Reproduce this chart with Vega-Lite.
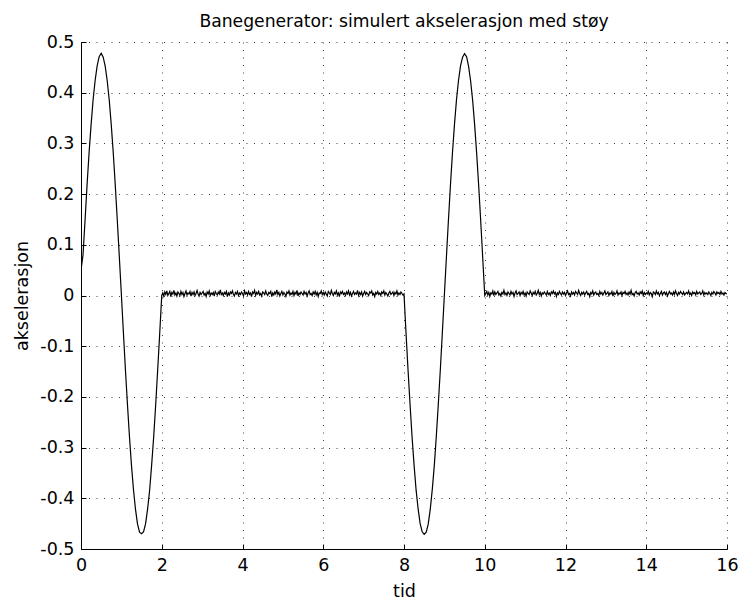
{
  "$schema": "https://vega.github.io/schema/vega-lite/v6.json",
  "autosize": {"type": "none"},
  "padding": {"left": 81, "top": 42, "right": 12, "bottom": 52},
  "width": 646,
  "height": 507,
  "background": "white",
  "config": {
    "view": {"stroke": null},
    "font": "DejaVu Sans",
    "axis": {
      "domainColor": "#000",
      "domainWidth": 1,
      "tickColor": "#000",
      "tickSize": -5,
      "labelColor": "#000",
      "labelFont": "DejaVu Sans",
      "labelFontSize": 17.5,
      "titleFont": "DejaVu Sans",
      "titleFontSize": 17.5,
      "titleFontWeight": "normal",
      "titleColor": "#000",
      "grid": true,
      "gridColor": "#000",
      "gridOpacity": 0.75,
      "gridDash": [1, 6.5],
      "gridWidth": 1
    }
  },
  "title": {
    "text": "Banegenerator: simulert akselerasjon med støy",
    "font": "DejaVu Sans",
    "fontSize": 17.2,
    "fontWeight": "normal",
    "color": "#000",
    "anchor": "middle",
    "baseline": "alphabetic",
    "offset": -11
  },
  "data": {
    "values": [
      {"t": 0.00, "a": 0.050}, {"t": 0.05, "a": 0.080}, {"t": 0.10, "a": 0.148}, {"t": 0.15, "a": 0.218},
      {"t": 0.20, "a": 0.281}, {"t": 0.25, "a": 0.337}, {"t": 0.30, "a": 0.386}, {"t": 0.35, "a": 0.424},
      {"t": 0.40, "a": 0.453}, {"t": 0.45, "a": 0.471}, {"t": 0.50, "a": 0.478}, {"t": 0.55, "a": 0.470},
      {"t": 0.60, "a": 0.452}, {"t": 0.65, "a": 0.423}, {"t": 0.70, "a": 0.385}, {"t": 0.75, "a": 0.336},
      {"t": 0.80, "a": 0.280}, {"t": 0.85, "a": 0.216}, {"t": 0.90, "a": 0.147}, {"t": 0.95, "a": 0.075},
      {"t": 1.00, "a": 0.002}, {"t": 1.05, "a": -0.073}, {"t": 1.10, "a": -0.146}, {"t": 1.15, "a": -0.214},
      {"t": 1.20, "a": -0.278}, {"t": 1.25, "a": -0.335}, {"t": 1.30, "a": -0.383}, {"t": 1.35, "a": -0.422},
      {"t": 1.40, "a": -0.451}, {"t": 1.45, "a": -0.467}, {"t": 1.50, "a": -0.470}, {"t": 1.55, "a": -0.466},
      {"t": 1.60, "a": -0.450}, {"t": 1.65, "a": -0.421}, {"t": 1.70, "a": -0.384}, {"t": 1.75, "a": -0.334},
      {"t": 1.80, "a": -0.279}, {"t": 1.85, "a": -0.215}, {"t": 1.90, "a": -0.146}, {"t": 1.95, "a": -0.074},
      {"t": 2.00, "a": 0.000},

      {"t": 2.025, "a": 0.005}, {"t": 2.05, "a": -0.001}, {"t": 2.075, "a": 0.007}, {"t": 2.1, "a": 0.002}, {"t": 2.125, "a": 0.009},
      {"t": 2.15, "a": 0.000}, {"t": 2.175, "a": 0.004}, {"t": 2.2, "a": 0.008}, {"t": 2.225, "a": -0.002}, {"t": 2.25, "a": 0.006},
      {"t": 2.275, "a": 0.003}, {"t": 2.3, "a": 0.010}, {"t": 2.325, "a": 0.001}, {"t": 2.35, "a": 0.005}, {"t": 2.375, "a": -0.001},
      {"t": 2.4, "a": 0.007}, {"t": 2.425, "a": 0.004}, {"t": 2.45, "a": 0.000}, {"t": 2.475, "a": 0.008}, {"t": 2.5, "a": 0.002},
      {"t": 2.525, "a": 0.006}, {"t": 2.55, "a": -0.002}, {"t": 2.575, "a": 0.004}, {"t": 2.6, "a": 0.009}, {"t": 2.625, "a": 0.001},
      {"t": 2.65, "a": 0.005}, {"t": 2.675, "a": 0.003}, {"t": 2.7, "a": 0.008}, {"t": 2.725, "a": -0.001}, {"t": 2.75, "a": 0.006},
      {"t": 2.775, "a": 0.002}, {"t": 2.8, "a": 0.007}, {"t": 2.825, "a": 0.000}, {"t": 2.85, "a": 0.004}, {"t": 2.875, "a": 0.010},
      {"t": 2.9, "a": 0.003}, {"t": 2.925, "a": -0.001}, {"t": 2.95, "a": 0.006}, {"t": 2.975, "a": 0.002}, {"t": 3.0, "a": 0.005},
      {"t": 3.025, "a": 0.008}, {"t": 3.05, "a": 0.001}, {"t": 3.075, "a": 0.004}, {"t": 3.1, "a": -0.002}, {"t": 3.125, "a": 0.007},
      {"t": 3.15, "a": 0.003}, {"t": 3.175, "a": 0.009}, {"t": 3.2, "a": 0.000}, {"t": 3.225, "a": 0.005}, {"t": 3.25, "a": 0.002},
      {"t": 3.275, "a": 0.006}, {"t": 3.3, "a": -0.001}, {"t": 3.325, "a": 0.008}, {"t": 3.35, "a": 0.004}, {"t": 3.375, "a": 0.001},
      {"t": 3.4, "a": 0.007}, {"t": 3.425, "a": 0.003}, {"t": 3.45, "a": 0.011}, {"t": 3.475, "a": 0.002}, {"t": 3.5, "a": 0.005},
      {"t": 3.525, "a": 0.000}, {"t": 3.55, "a": 0.006}, {"t": 3.575, "a": 0.003}, {"t": 3.6, "a": 0.008}, {"t": 3.625, "a": -0.002},
      {"t": 3.65, "a": 0.005}, {"t": 3.675, "a": 0.001}, {"t": 3.7, "a": 0.007}, {"t": 3.725, "a": 0.004}, {"t": 3.75, "a": 0.009},
      {"t": 3.775, "a": 0.002}, {"t": 3.8, "a": -0.001}, {"t": 3.825, "a": 0.006}, {"t": 3.85, "a": 0.003}, {"t": 3.875, "a": 0.008},
      {"t": 3.9, "a": 0.000}, {"t": 3.925, "a": 0.005}, {"t": 3.95, "a": 0.002}, {"t": 3.975, "a": 0.007}, {"t": 4.0, "a": 0.004},
      {"t": 4.025, "a": -0.001}, {"t": 4.05, "a": 0.009}, {"t": 4.075, "a": 0.003}, {"t": 4.1, "a": 0.006}, {"t": 4.125, "a": 0.001},
      {"t": 4.15, "a": 0.008}, {"t": 4.175, "a": 0.002}, {"t": 4.2, "a": 0.005}, {"t": 4.225, "a": -0.002}, {"t": 4.25, "a": 0.007},
      {"t": 4.275, "a": 0.004}, {"t": 4.3, "a": 0.010}, {"t": 4.325, "a": 0.000}, {"t": 4.35, "a": 0.006}, {"t": 4.375, "a": 0.003},
      {"t": 4.4, "a": 0.008}, {"t": 4.425, "a": 0.001}, {"t": 4.45, "a": 0.004}, {"t": 4.475, "a": -0.001}, {"t": 4.5, "a": 0.007},
      {"t": 4.525, "a": 0.005}, {"t": 4.55, "a": 0.002}, {"t": 4.575, "a": 0.009}, {"t": 4.6, "a": 0.003}, {"t": 4.625, "a": 0.000},
      {"t": 4.65, "a": 0.006}, {"t": 4.675, "a": 0.004}, {"t": 4.7, "a": 0.008}, {"t": 4.725, "a": -0.002}, {"t": 4.75, "a": 0.005},
      {"t": 4.775, "a": 0.001}, {"t": 4.8, "a": 0.007}, {"t": 4.825, "a": 0.003}, {"t": 4.85, "a": 0.011}, {"t": 4.875, "a": 0.002},
      {"t": 4.9, "a": 0.006}, {"t": 4.925, "a": -0.001}, {"t": 4.95, "a": 0.004}, {"t": 4.975, "a": 0.008}, {"t": 5.0, "a": 0.001},
      {"t": 5.025, "a": 0.006}, {"t": 5.05, "a": 0.003}, {"t": 5.075, "a": -0.002}, {"t": 5.1, "a": 0.007}, {"t": 5.125, "a": 0.004},
      {"t": 5.15, "a": 0.009}, {"t": 5.175, "a": 0.001}, {"t": 5.2, "a": 0.005}, {"t": 5.225, "a": 0.002}, {"t": 5.25, "a": 0.008},
      {"t": 5.275, "a": 0.000}, {"t": 5.3, "a": 0.006}, {"t": 5.325, "a": 0.003}, {"t": 5.35, "a": 0.010}, {"t": 5.375, "a": -0.001},
      {"t": 5.4, "a": 0.005}, {"t": 5.425, "a": 0.002}, {"t": 5.45, "a": 0.007}, {"t": 5.475, "a": 0.004}, {"t": 5.5, "a": 0.001},
      {"t": 5.525, "a": 0.008}, {"t": 5.55, "a": 0.003}, {"t": 5.575, "a": 0.006}, {"t": 5.6, "a": -0.001}, {"t": 5.625, "a": 0.005},
      {"t": 5.65, "a": 0.009}, {"t": 5.675, "a": 0.002}, {"t": 5.7, "a": 0.004}, {"t": 5.725, "a": 0.000}, {"t": 5.75, "a": 0.007},
      {"t": 5.775, "a": 0.003}, {"t": 5.8, "a": 0.008}, {"t": 5.825, "a": 0.001}, {"t": 5.85, "a": 0.006}, {"t": 5.875, "a": -0.002},
      {"t": 5.9, "a": 0.005}, {"t": 5.925, "a": 0.004}, {"t": 5.95, "a": 0.009}, {"t": 5.975, "a": 0.002}, {"t": 6.0, "a": 0.006},
      {"t": 6.025, "a": 0.001}, {"t": 6.05, "a": 0.007}, {"t": 6.075, "a": 0.003}, {"t": 6.1, "a": -0.001}, {"t": 6.125, "a": 0.008},
      {"t": 6.15, "a": 0.005}, {"t": 6.175, "a": 0.002}, {"t": 6.2, "a": 0.010}, {"t": 6.225, "a": 0.004}, {"t": 6.25, "a": 0.000},
      {"t": 6.275, "a": 0.006}, {"t": 6.3, "a": 0.003}, {"t": 6.325, "a": 0.009}, {"t": 6.35, "a": 0.001}, {"t": 6.375, "a": 0.005},
      {"t": 6.4, "a": -0.002}, {"t": 6.425, "a": 0.007}, {"t": 6.45, "a": 0.004}, {"t": 6.475, "a": 0.008}, {"t": 6.5, "a": 0.002},
      {"t": 6.525, "a": 0.005}, {"t": 6.55, "a": 0.000}, {"t": 6.575, "a": 0.007}, {"t": 6.6, "a": 0.003}, {"t": 6.625, "a": 0.009},
      {"t": 6.65, "a": 0.001}, {"t": 6.675, "a": 0.006}, {"t": 6.7, "a": -0.001}, {"t": 6.725, "a": 0.004}, {"t": 6.75, "a": 0.008},
      {"t": 6.775, "a": 0.002}, {"t": 6.8, "a": 0.005}, {"t": 6.825, "a": 0.003}, {"t": 6.85, "a": 0.010}, {"t": 6.875, "a": 0.000},
      {"t": 6.9, "a": 0.006}, {"t": 6.925, "a": 0.002}, {"t": 6.95, "a": 0.007}, {"t": 6.975, "a": -0.001}, {"t": 7.0, "a": 0.004},
      {"t": 7.025, "a": 0.008}, {"t": 7.05, "a": 0.002}, {"t": 7.075, "a": 0.006}, {"t": 7.1, "a": 0.003}, {"t": 7.125, "a": 0.000},
      {"t": 7.15, "a": 0.007}, {"t": 7.175, "a": 0.005}, {"t": 7.2, "a": 0.009}, {"t": 7.225, "a": 0.001}, {"t": 7.25, "a": 0.004},
      {"t": 7.275, "a": -0.002}, {"t": 7.3, "a": 0.006}, {"t": 7.325, "a": 0.003}, {"t": 7.35, "a": 0.008}, {"t": 7.375, "a": 0.002},
      {"t": 7.4, "a": 0.005}, {"t": 7.425, "a": 0.000}, {"t": 7.45, "a": 0.007}, {"t": 7.475, "a": 0.004}, {"t": 7.5, "a": 0.009},
      {"t": 7.525, "a": 0.001}, {"t": 7.55, "a": 0.006}, {"t": 7.575, "a": 0.003}, {"t": 7.6, "a": -0.001}, {"t": 7.625, "a": 0.005},
      {"t": 7.65, "a": 0.008}, {"t": 7.675, "a": 0.002}, {"t": 7.7, "a": 0.004}, {"t": 7.725, "a": 0.007}, {"t": 7.75, "a": 0.000},
      {"t": 7.775, "a": 0.006}, {"t": 7.8, "a": 0.003}, {"t": 7.825, "a": 0.009}, {"t": 7.85, "a": 0.001}, {"t": 7.875, "a": 0.005},
      {"t": 7.9, "a": 0.002}, {"t": 7.925, "a": 0.007}, {"t": 7.95, "a": 0.004}, {"t": 7.975, "a": 0.001}, {"t": 8.0, "a": 0.003},

      {"t": 8.05, "a": -0.074}, {"t": 8.10, "a": -0.147}, {"t": 8.15, "a": -0.215}, {"t": 8.20, "a": -0.279}, {"t": 8.25, "a": -0.335},
      {"t": 8.30, "a": -0.384}, {"t": 8.35, "a": -0.421}, {"t": 8.40, "a": -0.450}, {"t": 8.45, "a": -0.466}, {"t": 8.50, "a": -0.471},
      {"t": 8.55, "a": -0.467}, {"t": 8.60, "a": -0.451}, {"t": 8.65, "a": -0.422}, {"t": 8.70, "a": -0.383}, {"t": 8.75, "a": -0.336},
      {"t": 8.80, "a": -0.278}, {"t": 8.85, "a": -0.214}, {"t": 8.90, "a": -0.146}, {"t": 8.95, "a": -0.073}, {"t": 9.00, "a": 0.001},
      {"t": 9.05, "a": 0.075}, {"t": 9.10, "a": 0.148}, {"t": 9.15, "a": 0.217}, {"t": 9.20, "a": 0.281}, {"t": 9.25, "a": 0.337},
      {"t": 9.30, "a": 0.386}, {"t": 9.35, "a": 0.424}, {"t": 9.40, "a": 0.453}, {"t": 9.45, "a": 0.470}, {"t": 9.50, "a": 0.477},
      {"t": 9.55, "a": 0.471}, {"t": 9.60, "a": 0.452}, {"t": 9.65, "a": 0.423}, {"t": 9.70, "a": 0.385}, {"t": 9.75, "a": 0.336},
      {"t": 9.80, "a": 0.280}, {"t": 9.85, "a": 0.216}, {"t": 9.90, "a": 0.147}, {"t": 9.95, "a": 0.074}, {"t": 10.00, "a": 0.000},

      {"t": 10.025, "a": 0.004}, {"t": 10.05, "a": 0.008}, {"t": 10.075, "a": 0.001}, {"t": 10.1, "a": 0.006}, {"t": 10.125, "a": -0.002},
      {"t": 10.15, "a": 0.005}, {"t": 10.175, "a": 0.003}, {"t": 10.2, "a": 0.009}, {"t": 10.225, "a": 0.000}, {"t": 10.25, "a": 0.007},
      {"t": 10.275, "a": 0.002}, {"t": 10.3, "a": 0.005}, {"t": 10.325, "a": 0.008}, {"t": 10.35, "a": 0.001}, {"t": 10.375, "a": 0.004},
      {"t": 10.4, "a": -0.001}, {"t": 10.425, "a": 0.006}, {"t": 10.45, "a": 0.003}, {"t": 10.475, "a": 0.010}, {"t": 10.5, "a": 0.002},
      {"t": 10.525, "a": 0.005}, {"t": 10.55, "a": 0.000}, {"t": 10.575, "a": 0.007}, {"t": 10.6, "a": 0.004}, {"t": 10.625, "a": 0.001},
      {"t": 10.65, "a": 0.008}, {"t": 10.675, "a": 0.003}, {"t": 10.7, "a": 0.006}, {"t": 10.725, "a": -0.002}, {"t": 10.75, "a": 0.005},
      {"t": 10.775, "a": 0.009}, {"t": 10.8, "a": 0.002}, {"t": 10.825, "a": 0.004}, {"t": 10.85, "a": 0.007}, {"t": 10.875, "a": 0.000},
      {"t": 10.9, "a": 0.006}, {"t": 10.925, "a": 0.003}, {"t": 10.95, "a": 0.008}, {"t": 10.975, "a": 0.001}, {"t": 11.0, "a": 0.005},
      {"t": 11.025, "a": -0.001}, {"t": 11.05, "a": 0.007}, {"t": 11.075, "a": 0.004}, {"t": 11.1, "a": 0.002}, {"t": 11.125, "a": 0.009},
      {"t": 11.15, "a": 0.005}, {"t": 11.175, "a": 0.000}, {"t": 11.2, "a": 0.006}, {"t": 11.225, "a": 0.003}, {"t": 11.25, "a": 0.008},
      {"t": 11.275, "a": 0.001}, {"t": 11.3, "a": 0.004}, {"t": 11.325, "a": 0.010}, {"t": 11.35, "a": 0.002}, {"t": 11.375, "a": 0.006},
      {"t": 11.4, "a": -0.001}, {"t": 11.425, "a": 0.005}, {"t": 11.45, "a": 0.003}, {"t": 11.475, "a": 0.007}, {"t": 11.5, "a": 0.004},
      {"t": 11.525, "a": 0.001}, {"t": 11.55, "a": 0.008}, {"t": 11.575, "a": 0.002}, {"t": 11.6, "a": 0.005}, {"t": 11.625, "a": 0.000},
      {"t": 11.65, "a": 0.007}, {"t": 11.675, "a": 0.004}, {"t": 11.7, "a": 0.009}, {"t": 11.725, "a": 0.003}, {"t": 11.75, "a": 0.006},
      {"t": 11.775, "a": -0.002}, {"t": 11.8, "a": 0.005}, {"t": 11.825, "a": 0.002}, {"t": 11.85, "a": 0.008}, {"t": 11.875, "a": 0.004},
      {"t": 11.9, "a": 0.001}, {"t": 11.925, "a": 0.007}, {"t": 11.95, "a": 0.003}, {"t": 11.975, "a": 0.006}, {"t": 12.0, "a": 0.000},
      {"t": 12.025, "a": 0.005}, {"t": 12.05, "a": 0.009}, {"t": 12.075, "a": 0.002}, {"t": 12.1, "a": 0.004}, {"t": 12.125, "a": -0.001},
      {"t": 12.15, "a": 0.007}, {"t": 12.175, "a": 0.003}, {"t": 12.2, "a": 0.006}, {"t": 12.225, "a": 0.001}, {"t": 12.25, "a": 0.008},
      {"t": 12.275, "a": 0.005}, {"t": 12.3, "a": 0.002}, {"t": 12.325, "a": 0.010}, {"t": 12.35, "a": 0.004}, {"t": 12.375, "a": 0.000},
      {"t": 12.4, "a": 0.006}, {"t": 12.425, "a": 0.003}, {"t": 12.45, "a": 0.007}, {"t": 12.475, "a": 0.001}, {"t": 12.5, "a": 0.005},
      {"t": 12.525, "a": 0.008}, {"t": 12.55, "a": 0.002}, {"t": 12.575, "a": 0.004}, {"t": 12.6, "a": -0.002}, {"t": 12.625, "a": 0.006},
      {"t": 12.65, "a": 0.003}, {"t": 12.675, "a": 0.009}, {"t": 12.7, "a": 0.001}, {"t": 12.725, "a": 0.005}, {"t": 12.75, "a": 0.007},
      {"t": 12.775, "a": 0.002}, {"t": 12.8, "a": 0.004}, {"t": 12.825, "a": 0.000}, {"t": 12.85, "a": 0.008}, {"t": 12.875, "a": 0.003},
      {"t": 12.9, "a": 0.006}, {"t": 12.925, "a": 0.001}, {"t": 12.95, "a": 0.005}, {"t": 12.975, "a": 0.009}, {"t": 13.0, "a": 0.002},
      {"t": 13.025, "a": 0.004}, {"t": 13.05, "a": 0.007}, {"t": 13.075, "a": 0.000}, {"t": 13.1, "a": 0.005}, {"t": 13.125, "a": 0.003},
      {"t": 13.15, "a": 0.008}, {"t": 13.175, "a": -0.001}, {"t": 13.2, "a": 0.006}, {"t": 13.225, "a": 0.002}, {"t": 13.25, "a": 0.004},
      {"t": 13.275, "a": 0.009}, {"t": 13.3, "a": 0.001}, {"t": 13.325, "a": 0.005}, {"t": 13.35, "a": 0.003}, {"t": 13.375, "a": 0.007},
      {"t": 13.4, "a": 0.000}, {"t": 13.425, "a": 0.006}, {"t": 13.45, "a": 0.004}, {"t": 13.475, "a": 0.008}, {"t": 13.5, "a": 0.002},
      {"t": 13.525, "a": 0.005}, {"t": 13.55, "a": 0.001}, {"t": 13.575, "a": 0.007}, {"t": 13.6, "a": 0.003}, {"t": 13.625, "a": 0.010},
      {"t": 13.65, "a": 0.002}, {"t": 13.675, "a": 0.004}, {"t": 13.7, "a": -0.001}, {"t": 13.725, "a": 0.006}, {"t": 13.75, "a": 0.008},
      {"t": 13.775, "a": 0.003}, {"t": 13.8, "a": 0.005}, {"t": 13.825, "a": 0.001}, {"t": 13.85, "a": 0.007}, {"t": 13.875, "a": 0.004},
      {"t": 13.9, "a": 0.009}, {"t": 13.925, "a": 0.000}, {"t": 13.95, "a": 0.006}, {"t": 13.975, "a": 0.002}, {"t": 14.0, "a": 0.005},
      {"t": 14.025, "a": 0.003}, {"t": 14.05, "a": 0.008}, {"t": 14.075, "a": 0.001}, {"t": 14.1, "a": 0.006}, {"t": 14.125, "a": 0.004},
      {"t": 14.15, "a": -0.002}, {"t": 14.175, "a": 0.007}, {"t": 14.2, "a": 0.005}, {"t": 14.225, "a": 0.002}, {"t": 14.25, "a": 0.009},
      {"t": 14.275, "a": 0.003}, {"t": 14.3, "a": 0.006}, {"t": 14.325, "a": 0.000}, {"t": 14.35, "a": 0.004}, {"t": 14.375, "a": 0.008},
      {"t": 14.4, "a": 0.001}, {"t": 14.425, "a": 0.005}, {"t": 14.45, "a": 0.007}, {"t": 14.475, "a": 0.002}, {"t": 14.5, "a": 0.006},
      {"t": 14.525, "a": -0.001}, {"t": 14.55, "a": 0.004}, {"t": 14.575, "a": 0.008}, {"t": 14.6, "a": 0.003}, {"t": 14.625, "a": 0.005},
      {"t": 14.65, "a": 0.001}, {"t": 14.675, "a": 0.007}, {"t": 14.7, "a": 0.002}, {"t": 14.725, "a": 0.009}, {"t": 14.75, "a": 0.004},
      {"t": 14.775, "a": 0.000}, {"t": 14.8, "a": 0.006}, {"t": 14.825, "a": 0.003}, {"t": 14.85, "a": 0.008}, {"t": 14.875, "a": 0.005},
      {"t": 14.9, "a": 0.002}, {"t": 14.925, "a": 0.007}, {"t": 14.95, "a": 0.001}, {"t": 14.975, "a": 0.004}, {"t": 15.0, "a": 0.006},
      {"t": 15.025, "a": 0.003}, {"t": 15.05, "a": 0.009}, {"t": 15.075, "a": 0.002}, {"t": 15.1, "a": 0.005}, {"t": 15.125, "a": 0.000},
      {"t": 15.15, "a": 0.007}, {"t": 15.175, "a": 0.004}, {"t": 15.2, "a": 0.006}, {"t": 15.225, "a": 0.001}, {"t": 15.25, "a": 0.008},
      {"t": 15.275, "a": 0.003}, {"t": 15.3, "a": 0.005}, {"t": 15.325, "a": 0.007}, {"t": 15.35, "a": 0.002}, {"t": 15.375, "a": 0.004},
      {"t": 15.4, "a": 0.009}, {"t": 15.425, "a": 0.001}, {"t": 15.45, "a": 0.006}, {"t": 15.475, "a": 0.003}, {"t": 15.5, "a": 0.005},
      {"t": 15.525, "a": 0.002}, {"t": 15.55, "a": 0.007}, {"t": 15.575, "a": 0.004}, {"t": 15.6, "a": 0.000}, {"t": 15.625, "a": 0.006},
      {"t": 15.65, "a": 0.003}, {"t": 15.675, "a": 0.008}, {"t": 15.7, "a": 0.005}, {"t": 15.725, "a": 0.001}, {"t": 15.75, "a": 0.007},
      {"t": 15.775, "a": 0.004}, {"t": 15.8, "a": 0.006}, {"t": 15.825, "a": 0.002}, {"t": 15.85, "a": 0.008}, {"t": 15.875, "a": 0.003},
      {"t": 15.9, "a": 0.005}, {"t": 15.925, "a": 0.001}, {"t": 15.95, "a": 0.006}, {"t": 15.975, "a": 0.004}, {"t": 16.0, "a": 0.003}
    ]
  },
  "mark": {"type": "line", "color": "#000", "strokeWidth": 1.2, "clip": true},
  "encoding": {
    "x": {
      "field": "t",
      "type": "quantitative",
      "scale": {"domain": [0, 16], "nice": false, "zero": false},
      "axis": {
        "title": "tid",
        "values": [0, 2, 4, 6, 8, 10, 12, 14, 16],
        "labelPadding": 12,
        "labelFlush": false,
        "titlePadding": 9
      }
    },
    "y": {
      "field": "a",
      "type": "quantitative",
      "scale": {"domain": [-0.5, 0.5], "nice": false, "zero": false},
      "axis": {
        "title": "akselerasjon",
        "values": [-0.5, -0.4, -0.3, -0.2, -0.1, 0, 0.1, 0.2, 0.3, 0.4, 0.5],
        "labelExpr": "'' + datum.value",
        "labelPadding": 12,
        "labelFlush": false,
        "titlePadding": 8
      }
    }
  }
}
